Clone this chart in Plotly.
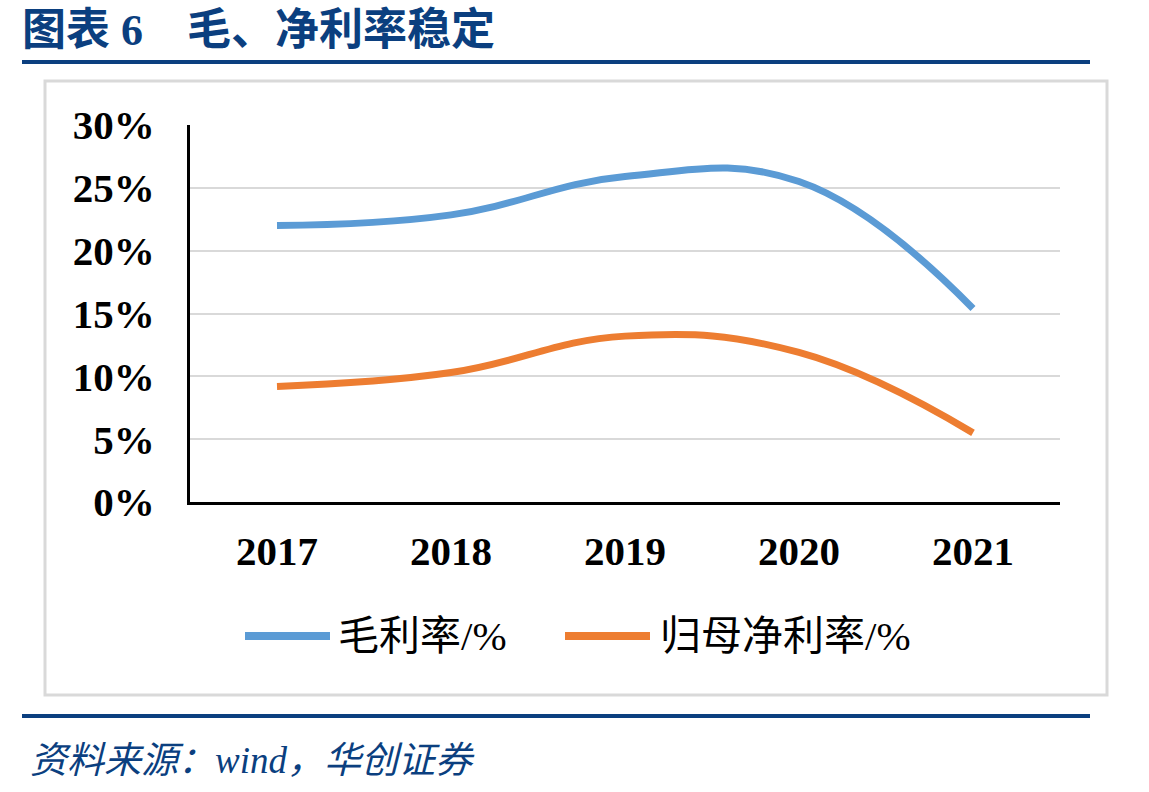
import plotly.graph_objects as go

years = ["2017", "2018", "2019", "2020", "2021"]
gross_margin = [22.0, 22.85, 25.9, 25.5, 15.4]
net_margin = [9.2, 10.3, 13.2, 11.9, 5.5]
series_names = ["毛利率/%", "归母净利率/%"]
colors = ["#5B9BD5", "#ED7D31"]
y_ticks = [0, 5, 10, 15, 20, 25, 30]

W, H = 1149, 792
L, R, T, B = 190, 89, 125, 290
PW, PH = W - L - R, H - T - B

def px(x):
    return (x - L) / PW

def py(y):
    return 1 - (y - T) / PH

fig = go.Figure()
for name, vals, c in zip(series_names, [gross_margin, net_margin], colors):
    fig.add_trace(go.Scatter(x=years, y=vals, name=name, mode="lines",
                             line=dict(color=c, width=7, shape="spline", smoothing=1.2),
                             showlegend=False, hoverinfo="skip"))

shapes = []
shapes.append(dict(type="rect", xref="paper", yref="paper", x0=px(45), x1=px(1107), y0=py(81), y1=py(695),
                   line=dict(color="#D9D9D9", width=3), fillcolor="rgba(0,0,0,0)", layer="below"))
for yy in (62, 716):
    shapes.append(dict(type="line", xref="paper", yref="paper", x0=px(22), x1=px(1090), y0=py(yy), y1=py(yy),
                       line=dict(color="#0B3F7F", width=4)))
annotations = []
leg = [(245, 330, 336), (565, 650, 658)]
for (x0, x1, tx), name, c in zip(leg, series_names, colors):
    shapes.append(dict(type="line", xref="paper", yref="paper", x0=px(x0), x1=px(x1), y0=py(636), y1=py(636),
                       line=dict(color=c, width=8)))
    annotations.append(dict(text=name, xref="paper", yref="paper", x=px(tx), y=py(636), xanchor="left",
                            yanchor="middle", showarrow=False,
                            font=dict(family="Liberation Serif, Noto Sans CJK SC", size=41, color="#000000")))

annotations.append(dict(text="<b>图表 6    毛、净利率稳定</b>", xref="paper", yref="paper", x=px(20), y=py(30),
                        xanchor="left", yanchor="middle", showarrow=False,
                        font=dict(family="Liberation Serif, Noto Sans CJK SC", size=44, color="#0B3F7F")))
annotations.append(dict(text="<i>资料来源：wind，华创证券</i>", xref="paper", yref="paper", x=px(28), y=py(760),
                        xanchor="left", yanchor="middle", showarrow=False,
                        font=dict(family="Liberation Serif, Noto Sans CJK SC", size=37, color="#0B3F7F")))

fig.update_layout(
    width=W, height=H, margin=dict(l=L, r=R, t=T, b=B, pad=0),
    paper_bgcolor="white", plot_bgcolor="white",
    shapes=shapes, annotations=annotations, hovermode=False,
    xaxis=dict(type="category", range=[-0.5, 4.5], showgrid=False, showline=True, linecolor="#000000",
               linewidth=3, ticks="", ticklabelstandoff=11,
               tickfont=dict(family="Liberation Serif", size=41, color="#000000")),
    yaxis=dict(range=[0, 30], tickvals=y_ticks, ticktext=[f"{v}%" for v in y_ticks], showgrid=True,
               gridcolor="#D9D9D9", gridwidth=2, showline=True, linecolor="#000000", linewidth=3,
               zeroline=False, ticks="", ticklabelstandoff=24,
               tickfont=dict(family="Liberation Serif", size=41, color="#000000")),
)
fig.update_xaxes(tickfont_weight="bold")
fig.update_yaxes(tickfont_weight="bold")
fig.write_html("out.html")
